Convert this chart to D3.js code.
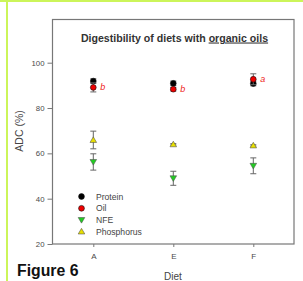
<!DOCTYPE html>
<html><head><meta charset="utf-8">
<script src="https://cdn.jsdelivr.net/npm/d3@7"></script>
<style>body{margin:0;background:#fff;}svg{display:block;font-family:Arial,"Liberation Sans",sans-serif;}</style>
</head><body>
<svg id="c" width="303" height="281"></svg>
<script>
const diets = ["A", "E", "F"];
const seriesNames = ["Protein", "Oil", "NFE", "Phosphorus"];
const protein = [91.9, 90.9, 90.8];
const proteinErr = [1.0, 1.0, 1.0];
const oil = [89.1, 88.3, 92.7];
const oilErr = [2.0, 0.8, 2.4];
const nfe = [56.2, 49.0, 54.5];
const nfeErr = [3.6, 3.1, 3.5];
const phosphorus = [65.9, 64.0, 63.5];
const phosphorusErr = [3.9, 0.3, 0.3];
const oilLetters = ["b", "b", "a"];
const yTicks = [20, 40, 60, 80, 100];

const svg = d3.select("#c");
// page decoration borders
svg.append("rect").attr("x",0).attr("y",0).attr("width",303).attr("height",2).attr("fill","#ccf55a");
svg.append("rect").attr("x",6).attr("y",0).attr("width",2).attr("height",281).attr("fill","#ccf55a");

const L = 52.5, R = 294, T = 19.5, B = 244;
const x = d3.scalePoint().domain(diets).range([93.3, 253.3]);
const y = d3.scaleLinear().domain([20, 100]).range([B, 62.7]);

// frame
svg.append("rect").attr("x",L).attr("y",T).attr("width",R-L).attr("height",B-T)
  .attr("fill","none").attr("stroke","#777").attr("stroke-width",1.2);

// y axis
const ya = svg.append("g").attr("transform",`translate(${L},0)`)
  .call(d3.axisLeft(y).tickValues(yTicks).tickSize(5).tickPadding(3));
ya.select(".domain").remove();
ya.selectAll("line").attr("stroke","#777");
ya.selectAll("text").attr("fill","#4a4a4a").style("font-size","7.8px");

// x axis
const xa = svg.append("g").attr("transform",`translate(0,${B})`)
  .call(d3.axisBottom(x).tickSize(3).tickPadding(6));
xa.select(".domain").remove();
xa.selectAll("line").attr("stroke","#777");
xa.selectAll("text").attr("fill","#4a4a4a").style("font-size","8px");

// axis titles
svg.append("text").attr("x",173).attr("y",280).attr("text-anchor","middle")
  .attr("fill","#444").style("font-size","10px").text("Diet");
svg.append("text").attr("transform","translate(22.5,131) rotate(-90)").attr("text-anchor","middle")
  .attr("fill","#444").style("font-size","10.5px").text("ADC (%)");

// title
const title = svg.append("text").attr("x",174.5).attr("y",41.5).attr("text-anchor","middle")
  .attr("fill","#333").style("font-size","10.6px").style("font-weight","bold");
title.append("tspan").text("Digestibility of diets with ");
title.append("tspan").style("text-decoration","underline").text("organic oils");

// Figure label
svg.append("text").attr("x",17).attr("y",276).attr("fill","#111")
  .style("font-size","15.8px").style("font-weight","bold").text("Figure 6");

const series = [
  {name:"Phosphorus", vals:phosphorus, err:phosphorusErr, shape:"up", fill:"#e8e000"},
  {name:"NFE", vals:nfe, err:nfeErr, shape:"down", fill:"#22cc22"},
  {name:"Protein", vals:protein, err:proteinErr, shape:"circle", fill:"#000"},
  {name:"Oil", vals:oil, err:oilErr, shape:"circle", fill:"#ee0000"}
];

function drawMarker(g, shape, fill, cx, cy) {
  if (shape === "circle") {
    g.append("circle").attr("cx",cx).attr("cy",cy).attr("r",2.9)
      .attr("fill",fill).attr("stroke","#111").attr("stroke-width",0.6);
  } else {
    const s = 3.3;
    const pts = shape === "up"
      ? [[cx-s,cy+s*0.75],[cx+s,cy+s*0.75],[cx,cy-s*0.95]]
      : [[cx-s,cy-s*0.75],[cx+s,cy-s*0.75],[cx,cy+s*0.95]];
    g.append("polygon").attr("points",pts.map(p=>p.join(",")).join(" "))
      .attr("fill",fill).attr("stroke","#555").attr("stroke-width",0.6);
  }
}

const gPts = svg.append("g");
series.forEach(s => {
  diets.forEach((d,i) => {
    const cx = x(d), v = s.vals[i], e = s.err[i];
    const eg = gPts.append("g").attr("stroke","#666").attr("stroke-width",1);
    eg.append("line").attr("x1",cx).attr("x2",cx).attr("y1",y(v-e)).attr("y2",y(v+e));
    eg.append("line").attr("x1",cx-3).attr("x2",cx+3).attr("y1",y(v-e)).attr("y2",y(v-e));
    eg.append("line").attr("x1",cx-3).attr("x2",cx+3).attr("y1",y(v+e)).attr("y2",y(v+e));
    drawMarker(gPts, s.shape, s.fill, cx, y(v));
  });
});

// significance letters
diets.forEach((d,i) => {
  svg.append("text").attr("x",x(d)+7).attr("y",y(oil[i])+3).attr("fill","#ee2222")
    .style("font-size","9px").style("font-style","italic").text(oilLetters[i]);
});

// legend
const legY = [196.5, 208.3, 220, 231.5];
const legSpec = {Protein:["circle","#000"], Oil:["circle","#ee0000"], NFE:["down","#22cc22"], Phosphorus:["up","#e8e000"]};
seriesNames.forEach((n,i) => {
  drawMarker(svg, legSpec[n][0], legSpec[n][1], 81.5, legY[i]);
  svg.append("text").attr("x",96).attr("y",legY[i]+3).attr("fill","#444")
    .style("font-size","8.6px").text(n);
});
</script>
</body></html>
